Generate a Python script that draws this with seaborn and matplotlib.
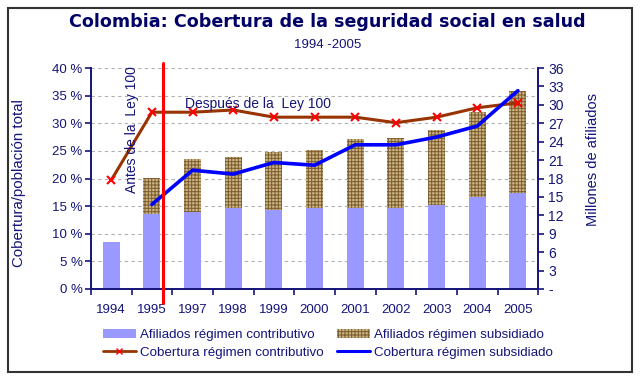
import matplotlib
matplotlib.use("Agg")
import matplotlib.pyplot as plt
import matplotlib.patches as mpatches
from matplotlib.lines import Line2D
import seaborn as sns
import numpy as np
import pandas as pd

years = ["1994", "1995", "1997", "1998", "1999", "2000", "2001", "2002", "2003", "2004", "2005"]
afil_contributivo = [7.6, 12.2, 12.6, 13.2, 12.9, 13.2, 13.2, 13.2, 13.7, 15.0, 15.6]
afil_subsidiado = [0.0, 5.9, 8.6, 8.3, 9.4, 9.4, 11.2, 11.4, 12.2, 13.9, 16.7]
cob_contributivo = [19.7, 32.0, 32.0, 32.4, 31.1, 31.1, 31.1, 30.1, 31.1, 32.8, 33.7]
cob_subsidiado = [None, 15.3, 21.5, 20.8, 22.9, 22.4, 26.1, 26.1, 27.5, 29.5, 35.9]
left_ticks = [0, 5, 10, 15, 20, 25, 30, 35, 40]
right_ticks = [0, 3, 6, 9, 12, 15, 18, 21, 24, 27, 30, 33, 36]
right_labels = ["-", "3", "6", "9", "12", "15", "18", "21", "24", "27", "30", "33", "36"]
ley100_pos = 1.27

NAVY = "#14147a"
SUB_FACE = "#c9b482"
SUB_HATCH = "#7d5c30"
sns.set_theme(style="white")
plt.rcParams["font.family"] = ["Liberation Sans", "DejaVu Sans"]
plt.rcParams["hatch.linewidth"] = 0.7

df = pd.DataFrame({
    "year": years,
    "contrib": afil_contributivo,
    "subsid": afil_subsidiado,
    "cob_c": cob_contributivo,
    "cob_s": cob_subsidiado,
})
df["total"] = df["contrib"] + df["subsid"]
df["x"] = np.arange(len(years))
df["cob_s"] = pd.to_numeric(df["cob_s"])

fig = plt.figure(figsize=(6.4, 3.84), dpi=100)
ax = fig.add_axes([0.142, 0.2474, 0.699, 0.5755])
ax2 = ax.twinx()

# bars on the right axis
BAR_W = 0.42
sns.barplot(data=df, x="year", y="total", ax=ax2, color=SUB_FACE, width=BAR_W,
            saturation=1, edgecolor=SUB_HATCH, linewidth=0, hatch="+++++", zorder=2)
sns.barplot(data=df, x="year", y="contrib", ax=ax2, color="#9999ff", width=BAR_W,
            saturation=1, linewidth=0, zorder=3)
for v in np.arange(4.5, 36.1, 4.5):
    ax2.axhline(v, ls=(0, (3, 3)), color="#b0b0b0", lw=0.8, zorder=0)

ax2.set_ylim(0, 36)
ax2.set_yticks(right_ticks)
ax2.set_yticklabels(right_labels)
ax2.set_ylabel("")
ax2.set_xlabel("")

# lines on the left axis
ax.set_zorder(ax2.get_zorder() + 1)
ax.patch.set_visible(False)
sns.lineplot(data=df, x="x", y="cob_c", ax=ax, color="#993300", lw=2.2,
             marker="x", markersize=6, markeredgecolor="#ff0000", markeredgewidth=1.5,
             zorder=5)
sns.lineplot(data=df.dropna(subset=["cob_s"]), x="x", y="cob_s", ax=ax, color="#0000ff",
             lw=2.6, zorder=6)
ax.set_ylim(0, 40)
ax.set_xlim(-0.5, len(years) - 0.5)
ax.set_yticks(left_ticks)
ax.set_yticklabels([f"{t} %" for t in left_ticks])
ax.set_xticks(range(len(years)))
ax.set_xticklabels(years)
ax.set_xticks(np.arange(-0.5, len(years)), minor=True)
ax.set_xlabel("")
ax.set_ylabel("")
ax2.set_xlim(-0.5, len(years) - 0.5)

# red vertical line
ax.plot([ley100_pos, ley100_pos], [-2.5, 40.9], color="#ff0000", lw=2.2, clip_on=False, zorder=7)
ax.text(0.5, 28.8, "Antes de la  Ley 100", rotation=90, color=NAVY, fontsize=10,
        ha="center", va="center", zorder=8)
ax.text(3.6, 33.5, "Después de la  Ley 100", color=NAVY, fontsize=10,
        ha="center", va="center", zorder=8)

# spines and ticks
for a in (ax, ax2):
    a.spines["top"].set_visible(False)
    for s in ("left", "right", "bottom"):
        a.spines[s].set_color(NAVY)
        a.spines[s].set_linewidth(1.4)
    a.grid(False)
ax.spines["right"].set_visible(False)
ax2.spines["left"].set_visible(False)
ax2.spines["bottom"].set_visible(False)

ax.tick_params(axis="y", which="major", direction="out", length=4, width=1.2, color=NAVY,
               labelcolor=NAVY, labelsize=9.5, pad=2, left=True)
ax.tick_params(axis="x", which="major", length=0, labelcolor=NAVY, labelsize=9.5, pad=11)
ax.tick_params(axis="x", which="minor", direction="out", length=4, width=1.2, color=NAVY, bottom=True)
ax2.tick_params(axis="y", direction="out", length=4, width=1.2, color=NAVY,
                labelcolor=NAVY, labelsize=10, pad=3, right=True)
ax2.tick_params(axis="x", length=0, labelbottom=False)

# axis titles
fig.text(0.029, 0.523, "Cobertura/población total", rotation=90, color=NAVY,
         fontsize=10.8, ha="center", va="center")
fig.text(0.927, 0.585, "Millones de afiliados", rotation=90, color=NAVY,
         fontsize=10.5, ha="center", va="center")

# titles
fig.text(0.512, 0.944, "Colombia: Cobertura de la seguridad social en salud", color="#000066",
         fontsize=12.6, fontweight="bold", family=["DejaVu Sans"], ha="center", va="center")
fig.text(0.512, 0.882, "1994 -2005", color=NAVY, fontsize=9.5, ha="center", va="center")

# legend (column-major fill: col1 then col2)
handles = [
    mpatches.Patch(facecolor="#9999ff", edgecolor="none", label="Afiliados régimen contributivo"),
    Line2D([0], [0], color="#993300", lw=2, marker="x", markersize=5,
           markeredgecolor="#ff0000", label="Cobertura régimen contributivo"),
    mpatches.Patch(facecolor=SUB_FACE, edgecolor=SUB_HATCH, linewidth=0, hatch="+++++",
                   label="Afiliados régimen subsidiado"),
    Line2D([0], [0], color="#0000ff", lw=2.2, label="Cobertura régimen subsidiado"),
]
leg = fig.legend(handles=handles, ncol=2, loc="center", bbox_to_anchor=(0.5125, 0.105),
                 frameon=False, fontsize=9.6, handlelength=2.5, handleheight=0.7,
                 columnspacing=1.0, handletextpad=0.3, labelspacing=0.4, labelcolor=NAVY)

# outer frame
fig.add_artist(mpatches.Rectangle((0.013, 0.03), 0.975, 0.948, transform=fig.transFigure,
                                  fill=False, edgecolor="#333333", lw=1.5))

fig.savefig("out.png", dpi=100)
